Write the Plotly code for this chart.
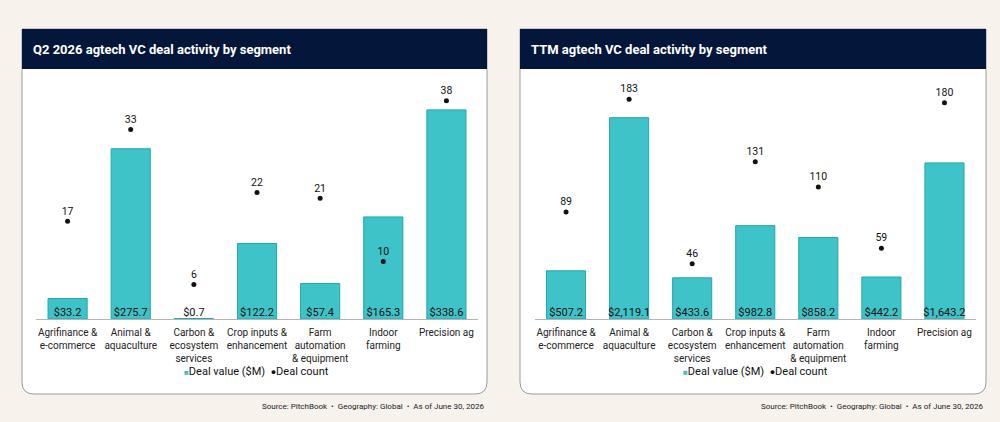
import plotly.graph_objects as go

# --- data ---
segments = [
    "Agrifinance &<br>e-commerce",
    "Animal &<br>aquaculture",
    "Carbon &<br>ecosystem<br>services",
    "Crop inputs &<br>enhancement",
    "Farm<br>automation<br>& equipment",
    "Indoor<br>farming",
    "Precision ag",
]
q2_value = [33.2, 275.7, 0.7, 122.2, 57.4, 165.3, 338.6]
q2_count = [17, 33, 6, 22, 21, 10, 38]
ttm_value = [507.2, 2119.1, 433.6, 982.8, 858.2, 442.2, 1643.2]
ttm_count = [89, 183, 46, 131, 110, 59, 180]

titles = ["Q2 2026 agtech VC deal activity by segment", "TTM agtech VC deal activity by segment"]
source_note = "Source: PitchBook  •  Geography: Global  •  As of June 30, 2026"

W, H = 1000, 422
BG = "#f7f2ec"
NAVY = "#04173a"
TEAL = "#3ec3c8"
TEAL_EDGE = "#22a7ac"
FONT = "Roboto, sans-serif"


def px(x):
    return x / W


def py(y):
    return 1 - y / H


def panel_path(x0, x1, y0, y1, r):
    rx, ry = r / W, r / H
    a, b, c, d = px(x0), px(x1), py(y0), py(y1)
    return (f"M{a},{c} L{b},{c} L{b},{d + ry} Q{b},{d} {b - rx},{d} "
            f"L{a + rx},{d} Q{a},{d} {a},{d + ry} Z")


panels = [
    dict(values=q2_value, counts=q2_count, xa="x", ya="y", ya2="y3",
         left=22, right=487, vmax=387, cmax=41.6),
    dict(values=ttm_value, counts=ttm_count, xa="x2", ya="y2", ya2="y4",
         left=520, right=986, vmax=2516, cmax=199),
]

fig = go.Figure()
shapes, annotations = [], []

for i, p in enumerate(panels):
    fig.add_trace(go.Bar(
        x=segments, y=p["values"], name="Deal value ($M)", showlegend=False,
        marker=dict(color=TEAL, line=dict(color=TEAL_EDGE, width=1)),
        xaxis=p["xa"], yaxis=p["ya"], hoverinfo="skip",
    ))
    fig.add_trace(go.Scatter(
        x=segments, y=[0] * len(segments), mode="text",
        text=[f"${v:,.1f}" for v in p["values"]], textposition="top center",
        textfont=dict(family=FONT, size=11, color="#111"),
        xaxis=p["xa"], yaxis=p["ya"], showlegend=False, hoverinfo="skip",
    ))
    fig.add_trace(go.Scatter(
        x=segments, y=p["counts"], mode="markers+text", name="Deal count", showlegend=False,
        text=[str(c) for c in p["counts"]], textposition="top center",
        textfont=dict(family=FONT, size=10.5, color="#111"),
        marker=dict(color="#111", size=5),
        xaxis=p["xa"], yaxis=p["ya2"], hoverinfo="skip",
    ))

    # white card, navy header, title, legend key and source
    shapes.append(dict(type="path", xref="paper", yref="paper", layer="below",
                       path=panel_path(p["left"], p["right"], 29, 394, 12),
                       fillcolor="white", line=dict(color="#9c9c9c", width=1)))
    shapes.append(dict(type="rect", xref="paper", yref="paper", layer="below",
                       x0=px(p["left"]), x1=px(p["right"]), y0=py(69), y1=py(29),
                       fillcolor=NAVY, line=dict(width=0)))
    annotations.append(dict(xref="paper", yref="paper", x=px(p["left"] + 9), y=py(49),
                            xanchor="left", yanchor="middle", showarrow=False,
                            text=f"<b>{titles[i]}</b>",
                            font=dict(family=FONT, size=13, color="white")))
    annotations.append(dict(xref="paper", yref="paper", x=px((p["left"] + p["right"]) / 2 + 2),
                            y=py(371), xanchor="center", yanchor="middle", showarrow=False,
                            text=(f"<span style='color:{TEAL}; font-size:8px'>■</span>Deal value ($M)"
                                  "&nbsp;&nbsp;<span style='font-size:9px'>●</span>Deal count"),
                            font=dict(family=FONT, size=11, color="#111")))
    annotations.append(dict(xref="paper", yref="paper", x=px(p["right"]), y=py(406),
                            xanchor="right", yanchor="middle", showarrow=False,
                            text=source_note.replace("  ", "&nbsp;&nbsp;"),
                            font=dict(family=FONT, size=8, color="#222")))

x_common = dict(showline=True, linecolor="#b4b4b4", linewidth=1, ticks="", tickangle=0,
                tickfont=dict(family=FONT, size=10, color="#222"), showgrid=False,
                ticklabelstandoff=4, fixedrange=True)
y_dom = [py(319), py(80)]

fig.update_layout(
    width=W, height=H,
    margin=dict(l=0, r=0, t=0, b=0),
    paper_bgcolor=BG, plot_bgcolor="rgba(0,0,0,0)",
    bargap=0.38,
    showlegend=False,
    xaxis=dict(domain=[0.036, 0.478], anchor="y", **x_common),
    xaxis2=dict(domain=[0.5345, 0.976], anchor="y2", **x_common),
    yaxis=dict(domain=y_dom, range=[0, panels[0]["vmax"]], visible=False, anchor="x"),
    yaxis2=dict(domain=y_dom, range=[0, panels[1]["vmax"]], visible=False, anchor="x2"),
    yaxis3=dict(overlaying="y", range=[0, panels[0]["cmax"]], visible=False, anchor="x"),
    yaxis4=dict(overlaying="y2", range=[0, panels[1]["cmax"]], visible=False, anchor="x2"),
    shapes=shapes,
    annotations=annotations,
)

fig.write_html(
    "out.html",
    config={"displayModeBar": False},
    post_script="document.body.style.margin='0'; document.body.style.background='#f7f2ec';",
)
